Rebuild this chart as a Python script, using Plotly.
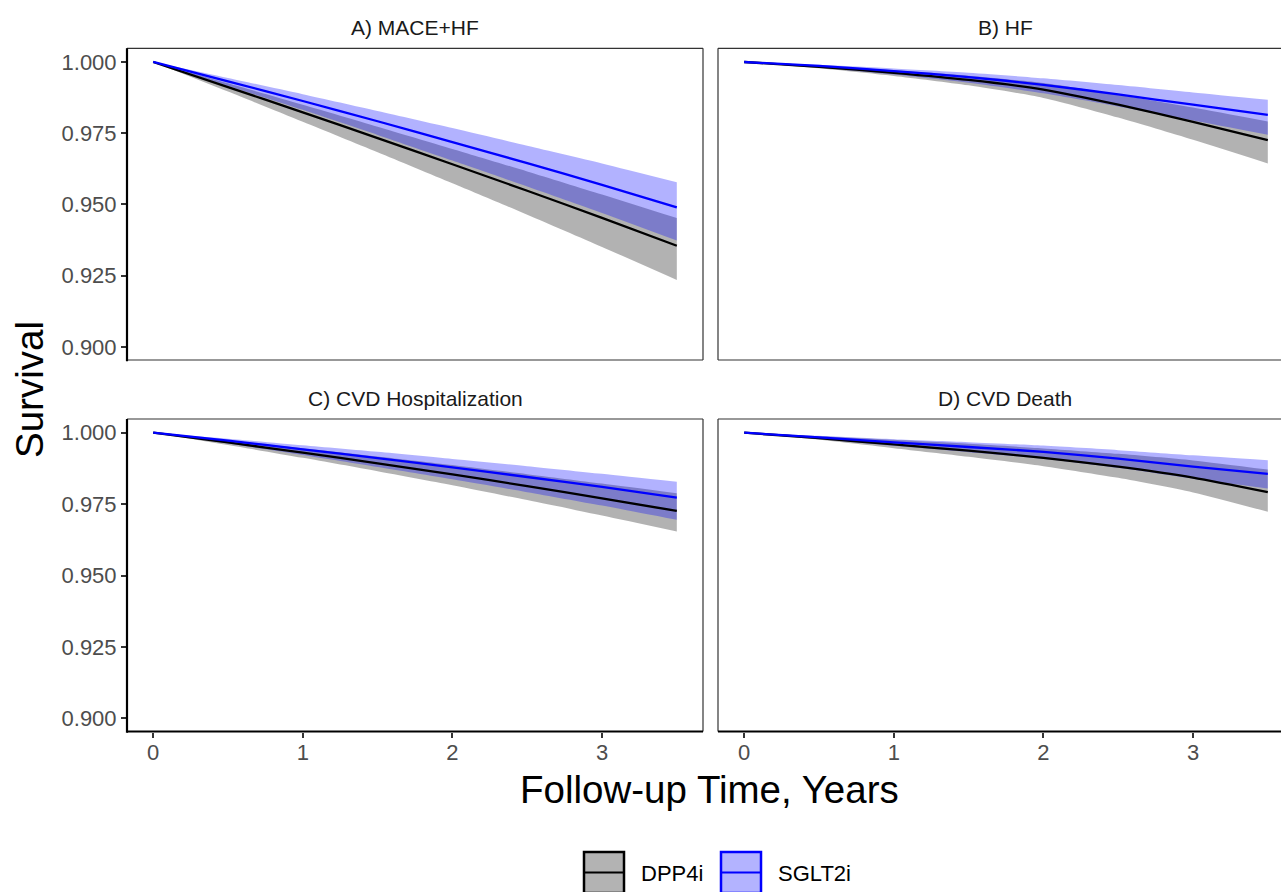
import plotly.graph_objects as go

# ---------------- data ----------------
years = [0, 0.5, 1, 1.5, 2, 2.5, 3, 3.5]

panel_titles = ["A) MACE+HF", "B) HF", "C) CVD Hospitalization", "D) CVD Death"]
groups = ["DPP4i", "SGLT2i"]

# A) MACE+HF
a_dpp4_est = [1.0, 0.9912, 0.9823, 0.9733, 0.9641, 0.9548, 0.9453, 0.9355]
a_dpp4_lo = [1.0, 0.9896, 0.9790, 0.9683, 0.9574, 0.9464, 0.9351, 0.9235]
a_dpp4_hi = [1.0, 0.9925, 0.9850, 0.9773, 0.9695, 0.9616, 0.9535, 0.9452]
a_sglt2_est = [1.0, 0.9932, 0.9863, 0.9792, 0.9719, 0.9645, 0.9569, 0.9490]
a_sglt2_lo = [1.0, 0.9916, 0.9832, 0.9744, 0.9654, 0.9563, 0.9470, 0.9373]
a_sglt2_hi = [1.0, 0.9944, 0.9887, 0.9828, 0.9768, 0.9706, 0.9644, 0.9578]

# B) HF
b_dpp4_est = [1.0, 0.9983, 0.9962, 0.9937, 0.9903, 0.9850, 0.9790, 0.9726]
b_dpp4_lo = [1.0, 0.9978, 0.9951, 0.9918, 0.9874, 0.9805, 0.9727, 0.9644]
b_dpp4_hi = [1.0, 0.9987, 0.9971, 0.9952, 0.9926, 0.9885, 0.9840, 0.9791]
b_sglt2_est = [1.0, 0.9986, 0.9968, 0.9947, 0.9920, 0.9886, 0.9850, 0.9814]
b_sglt2_lo = [1.0, 0.9981, 0.9956, 0.9927, 0.9890, 0.9844, 0.9795, 0.9745]
b_sglt2_hi = [1.0, 0.9990, 0.9977, 0.9962, 0.9943, 0.9919, 0.9893, 0.9867]

# C) CVD Hospitalization
c_dpp4_est = [1.0, 0.9966, 0.9930, 0.9893, 0.9854, 0.9813, 0.9770, 0.9726]
c_dpp4_lo = [1.0, 0.9957, 0.9912, 0.9865, 0.9816, 0.9764, 0.9710, 0.9654]
c_dpp4_hi = [1.0, 0.9974, 0.9946, 0.9917, 0.9887, 0.9855, 0.9822, 0.9788]
c_sglt2_est = [1.0, 0.9972, 0.9942, 0.9911, 0.9879, 0.9845, 0.9810, 0.9773]
c_sglt2_lo = [1.0, 0.9962, 0.9922, 0.9880, 0.9837, 0.9792, 0.9745, 0.9695]
c_sglt2_hi = [1.0, 0.9979, 0.9956, 0.9933, 0.9908, 0.9883, 0.9856, 0.9828]

# D) CVD Death
d_dpp4_est = [1.0, 0.9981, 0.9959, 0.9937, 0.9912, 0.9881, 0.9843, 0.9792]
d_dpp4_lo = [1.0, 0.9975, 0.9946, 0.9916, 0.9883, 0.9842, 0.9791, 0.9723]
d_dpp4_hi = [1.0, 0.9988, 0.9975, 0.9961, 0.9945, 0.9926, 0.9903, 0.9871]
d_sglt2_est = [1.0, 0.9984, 0.9966, 0.9950, 0.9933, 0.9909, 0.9881, 0.9856]
d_sglt2_lo = [1.0, 0.9978, 0.9954, 0.9932, 0.9909, 0.9877, 0.9839, 0.9805]
d_sglt2_hi = [1.0, 0.9989, 0.9977, 0.9967, 0.9955, 0.9939, 0.9921, 0.9904]

y_ticks = [0.900, 0.925, 0.950, 0.975, 1.000]
x_ticks = [0, 1, 2, 3]

# ---------------- figure ----------------
W, H = 1281, 892
FONT = "Liberation Sans, Arial, sans-serif"

panels = [
    (a_dpp4_est, a_dpp4_lo, a_dpp4_hi, a_sglt2_est, a_sglt2_lo, a_sglt2_hi),
    (b_dpp4_est, b_dpp4_lo, b_dpp4_hi, b_sglt2_est, b_sglt2_lo, b_sglt2_hi),
    (c_dpp4_est, c_dpp4_lo, c_dpp4_hi, c_sglt2_est, c_sglt2_lo, c_sglt2_hi),
    (d_dpp4_est, d_dpp4_lo, d_dpp4_hi, d_sglt2_est, d_sglt2_lo, d_sglt2_hi),
]

fig = go.Figure()

band_fill = {"DPP4i": "rgba(0,0,0,0.3)", "SGLT2i": "rgba(0,0,255,0.3)"}
line_col = {"DPP4i": "#000000", "SGLT2i": "#0000FF"}
SMOOTH = 0.7

for i, (de, dl, dh, se, sl, sh) in enumerate(panels):
    xa = "x" if i == 0 else f"x{i+1}"
    ya = "y" if i == 0 else f"y{i+1}"
    for g, lo, hi in (("DPP4i", dl, dh), ("SGLT2i", sl, sh)):
        fig.add_trace(go.Scatter(
            x=years, y=hi, mode="lines",
            line=dict(width=0, shape="spline", smoothing=SMOOTH, color=band_fill[g]),
            xaxis=xa, yaxis=ya, showlegend=False, hoverinfo="skip"))
        fig.add_trace(go.Scatter(
            x=years, y=lo, mode="lines", fill="tonexty", fillcolor=band_fill[g],
            line=dict(width=0, shape="spline", smoothing=SMOOTH, color=band_fill[g]),
            xaxis=xa, yaxis=ya, showlegend=False, hoverinfo="skip"))
    for g, est in (("DPP4i", de), ("SGLT2i", se)):
        fig.add_trace(go.Scatter(
            x=years, y=est, mode="lines",
            line=dict(color=line_col[g], width=2.3, shape="spline", smoothing=SMOOTH),
            xaxis=xa, yaxis=ya, showlegend=False, name=g))

# panel geometry (pixels)
left_x = (127, 703)
right_x = (718, 1281)
top_y = (48.3, 360)
bot_y = (419, 731.5)

def px_dom(a, b):
    return [a / W, b / W]

def py_dom(a, b):
    return [1 - b / H, 1 - a / H]

xr_left = [-0.175, 3.675]
xr_right = [-0.175, -0.175 + (right_x[1] - right_x[0]) / ((left_x[1] - left_x[0]) / 3.85)]
yr = [0.8954, 1.0048]

tickfont = dict(family=FONT, size=22, color="#4D4D4D")

common_x = dict(showgrid=False, zeroline=False, showline=False, tickvals=x_ticks,
                ticktext=[str(v) for v in x_ticks], tickfont=tickfont,
                ticklen=5, tickwidth=1.5, tickcolor="#333333", ticklabelstandoff=-4)
common_y = dict(showgrid=False, zeroline=False, showline=False, tickvals=y_ticks,
                ticktext=[f"{v:.3f}" for v in y_ticks], tickfont=tickfont,
                ticklen=5, tickwidth=1.5, tickcolor="#333333", range=yr)

layout = dict(
    width=W, height=H, margin=dict(l=0, r=0, t=0, b=0),
    paper_bgcolor="white", plot_bgcolor="white", showlegend=False,
    font=dict(family=FONT, color="#000000"),
    xaxis=dict(common_x, domain=px_dom(*left_x), range=xr_left, anchor="y",
               showticklabels=False, ticks=""),
    yaxis=dict(common_y, domain=py_dom(*top_y), anchor="x", ticks="outside"),
    xaxis2=dict(common_x, domain=px_dom(*right_x), range=xr_right, anchor="y2",
                showticklabels=False, ticks=""),
    yaxis2=dict(common_y, domain=py_dom(*top_y), anchor="x2", showticklabels=False, ticks=""),
    xaxis3=dict(common_x, domain=px_dom(*left_x), range=xr_left, anchor="y3", ticks="outside"),
    yaxis3=dict(common_y, domain=py_dom(*bot_y), anchor="x3", ticks="outside"),
    xaxis4=dict(common_x, domain=px_dom(*right_x), range=xr_right, anchor="y4", ticks="outside"),
    yaxis4=dict(common_y, domain=py_dom(*bot_y), anchor="x4", showticklabels=False, ticks=""),
)
fig.update_layout(**layout)

shapes = []
thin = dict(color="#333333", width=1.2)
thick = dict(color="#000000", width=2.2)
axes_ids = [("x", "y"), ("x2", "y2"), ("x3", "y3"), ("x4", "y4")]
for i, (xa, ya) in enumerate(axes_ids):
    xref, yref = f"{xa} domain", f"{ya} domain"
    sides = [(0, 0, 0, 1), (0, 1, 1, 1), (0, 0, 1, 0)]
    if i in (0, 2):
        sides.append((1, 0, 1, 1))
    for x0, y0, x1, y1 in sides:
        shapes.append(dict(type="line", xref=xref, yref=yref, x0=x0, y0=y0, x1=x1, y1=y1,
                           line=thin, layer="above"))
# thick axis lines (left column y-axis, bottom row x-axis)
for xa, ya in (("x", "y"), ("x3", "y3")):
    shapes.append(dict(type="line", xref=f"{xa} domain", yref=f"{ya} domain",
                       x0=0, y0=-0.004, x1=0, y1=1, line=thick, layer="above"))
for xa, ya in (("x3", "y3"), ("x4", "y4")):
    shapes.append(dict(type="line", xref=f"{xa} domain", yref=f"{ya} domain",
                       x0=0, y0=0, x1=1, y1=0, line=thick, layer="above"))

# legend keys (manual, ggplot-style boxes)
def ppx(v):
    return v / W

def ppy(v):
    return 1 - v / H

legend_items = [("DPP4i", 583, "#B3B3B3", "#000000"), ("SGLT2i", 720, "#B3B3FF", "#0000FF")]
annotations = []
for name, x0, fillc, edge in legend_items:
    shapes.append(dict(type="rect", xref="paper", yref="paper",
                       x0=ppx(x0 + 1), x1=ppx(x0 + 41), y0=ppy(893), y1=ppy(852),
                       fillcolor=fillc, line=dict(color=edge, width=2.5)))
    shapes.append(dict(type="line", xref="paper", yref="paper",
                       x0=ppx(x0 + 2), x1=ppx(x0 + 40), y0=ppy(872.5), y1=ppy(872.5),
                       line=dict(color=edge, width=2.2)))
    annotations.append(dict(text=name, xref="paper", yref="paper", x=ppx(x0 + 56), y=ppy(873),
                            xanchor="left", yanchor="middle", showarrow=False,
                            font=dict(family=FONT, size=22, color="#000000")))

# strip titles
strip_pos = [(415, 28), (1005, 28), (415, 398), (1005, 398)]
for title, (sx, sy) in zip(panel_titles, strip_pos):
    annotations.append(dict(text=title, xref="paper", yref="paper", x=ppx(sx), y=ppy(sy),
                            xanchor="center", yanchor="middle", showarrow=False,
                            font=dict(family=FONT, size=21, color="#1A1A1A")))

# axis titles
annotations.append(dict(text="Follow-up Time, Years", xref="paper", yref="paper",
                        x=ppx(710), y=ppy(789), xanchor="center", yanchor="middle",
                        showarrow=False, font=dict(family=FONT, size=38.5, color="#000000")))
annotations.append(dict(text="Survival", xref="paper", yref="paper",
                        x=ppx(29), y=ppy(390), xanchor="center", yanchor="middle",
                        textangle=-90, showarrow=False,
                        font=dict(family=FONT, size=38.5, color="#000000")))

fig.update_layout(shapes=shapes, annotations=annotations)

fig.write_html("out.html", config={"displayModeBar": False},
               post_script="document.body.style.margin='0';document.body.style.overflow='hidden';")
